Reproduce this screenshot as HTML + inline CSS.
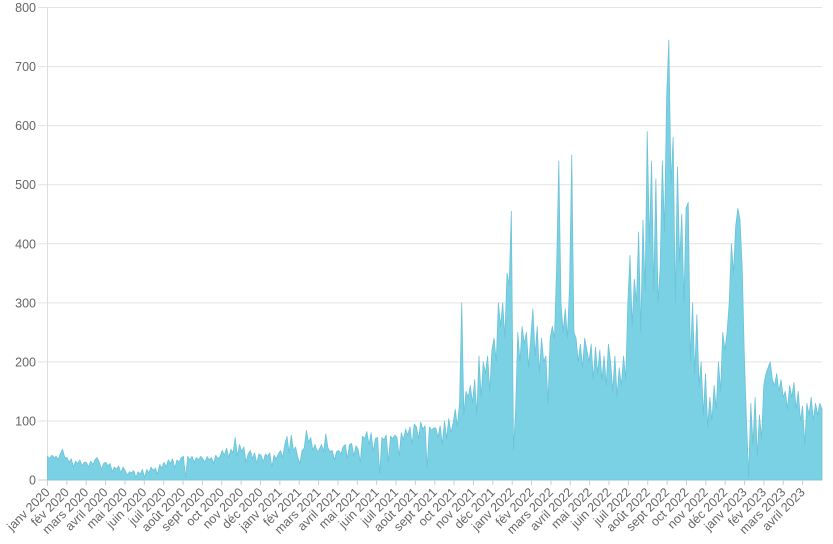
<!DOCTYPE html>
<html><head><meta charset="utf-8"><style>
html,body{margin:0;padding:0;background:#fff;}
svg{display:block;font-family:"Liberation Sans",sans-serif;}
</style></head><body>
<svg id="chart" width="833" height="544" viewBox="0 0 833 544" xmlns="http://www.w3.org/2000/svg"></svg>
<script>
const yTicks = [0,100,200,300,400,500,600,700,800];
const months = ["janv","fév","mars","avril","mai","juin","juil","août","sept","oct","nov","déc"];
const monthLabels = [];
for (let y = 2020; y <= 2023; y++) for (let m = 0; m < 12; m++) { if (y === 2023 && m > 3) break; monthLabels.push(months[m] + " " + y); }
const values = [
40,36,42,38,40,35,45,52,38,
38,30,36,22,32,28,34,24,30,
30,22,32,26,34,38,30,18,28,
30,24,28,14,22,18,24,12,22,
16,8,14,12,16,4,14,10,18,
4,18,12,22,16,20,10,26,20,
30,22,34,28,36,20,34,30,38,
40,4,40,34,40,30,38,34,40,
36,30,40,34,38,28,42,36,40,
50,42,54,38,52,46,72,40,60,
48,56,30,44,50,36,46,28,44,
42,30,44,40,46,22,42,36,44,
50,38,60,74,46,76,50,56,38,
28,50,54,84,64,72,50,60,48,
52,60,48,78,54,48,50,34,48,
50,44,56,60,36,60,62,40,58,
52,30,74,70,82,60,80,48,70,
72,10,72,68,76,30,74,70,76,
72,40,80,68,86,76,90,60,95,
90,70,98,86,92,20,90,84,88,
88,72,92,60,100,70,104,80,96,
120,90,130,300,110,150,140,160,130,
170,110,210,140,200,180,210,150,220,
240,200,300,260,300,240,350,330,455,
50,120,250,200,260,230,250,190,240,
290,210,260,180,240,200,210,130,240,
260,240,360,540,300,250,290,240,330,
550,250,240,200,230,190,240,220,200,
230,170,225,180,220,170,210,160,230,
200,150,210,140,190,160,210,170,300,
380,260,340,300,420,250,440,320,590,
400,540,320,510,300,360,540,420,650,
745,500,580,300,530,370,450,300,460,
470,200,300,180,280,160,200,110,180,
90,140,100,160,120,200,150,250,220,
250,300,400,350,430,460,440,360,210,
100,5,130,60,140,40,110,70,160,
180,190,200,170,160,180,150,170,140,
150,120,160,140,165,120,150,100,125,
60,130,110,140,100,130,110,130,120
];
const X0 = 47.5, X1 = 822, Y0 = 480, Y1 = 7.5, YMAX = 800;
const NS = "http://www.w3.org/2000/svg";
const svg = document.getElementById("chart");
function yScale(v){ return Y0 - (v / YMAX) * (Y0 - Y1); }
const monthW = (X1 - X0) / monthLabels.length;
function xMonth(i){ return X0 + i * monthW; }
function xVal(i){ return X0 + i * (X1 - X0) / (values.length - 1); }
function mk(tag, attrs){ const e = document.createElementNS(NS, tag); for (const k in attrs) e.setAttribute(k, attrs[k]); svg.appendChild(e); return e; }

yTicks.forEach(t => {
  const y = yScale(t) ;
  const g = mk("line", {x1: 38, x2: 822, y1: y, y2: y, stroke: t === 0 ? "#cccccc" : "#e3e3e3", "stroke-width": 1});
  
  
  const tx = mk("text", {x: 36, y: y + 4.5, "text-anchor": "end", "font-size": 12.5, fill: "#666"});
  tx.textContent = t;
  
  
});
const ax = mk("line", {x1: X0, x2: X0, y1: Y1, y2: Y0 + 6, stroke: "#dddddd", "stroke-width": 1});



let d = "M" + xVal(0) + "," + Y0;
values.forEach((v, i) => { d += " L" + xVal(i).toFixed(2) + "," + yScale(v).toFixed(2); });
d += " L" + xVal(values.length - 1) + "," + Y0 + " Z";
const area = mk("path", {d: d, fill: "#7ad1e4", stroke: "#6cc3d8", "stroke-width": 0.8, "stroke-linejoin": "round"});



monthLabels.forEach((lab, i) => {
  const x = xMonth(i);
  const tk = mk("line", {x1: x, x2: x, y1: Y0, y2: Y0 + 5, stroke: "#cccccc", "stroke-width": 1});
  
  
  const t = mk("text", {x: x + 3, y: Y0 + 13, "text-anchor": "end", "font-size": 12.5, fill: "#666", transform: "rotate(-45 " + (x + 3) + " " + (Y0 + 13) + ")"});
  t.textContent = lab;
  
  
});
</script>
</body></html>
